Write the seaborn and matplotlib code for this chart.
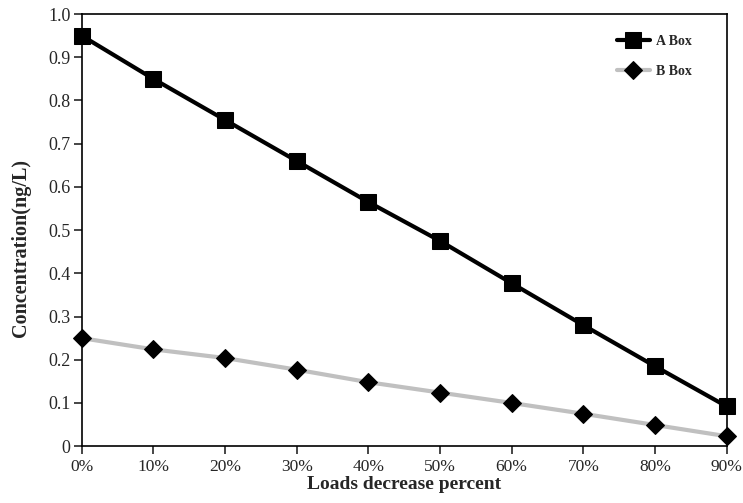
import numpy as np
import pandas as pd
import matplotlib
matplotlib.use("Agg")
import matplotlib.pyplot as plt
import seaborn as sns

categories = ["0%", "10%", "20%", "30%", "40%", "50%", "60%", "70%", "80%", "90%"]
a_box = [0.95, 0.85, 0.755, 0.66, 0.565, 0.475, 0.377, 0.28, 0.185, 0.092]
b_box = [0.25, 0.224, 0.204, 0.177, 0.148, 0.124, 0.100, 0.075, 0.049, 0.023]

sns.set_style("ticks")
plt.rcParams["font.family"] = ["Liberation Serif", "DejaVu Serif"]

df = pd.DataFrame({"pos": np.arange(len(categories)), "A Box": a_box, "B Box": b_box})

fig = plt.figure(figsize=(7.43, 5.03), dpi=100)
ax = fig.add_axes([0.110, 0.113, 0.868, 0.859])

sns.lineplot(data=df, x="pos", y="A Box", ax=ax, color="black", linewidth=3,
             marker="s", markersize=12, markeredgecolor="black", label="A Box",
             clip_on=False, zorder=4)
sns.lineplot(data=df, x="pos", y="B Box", ax=ax, color="#c0c0c0", linewidth=3,
             marker="D", markersize=9, markerfacecolor="black",
             markeredgecolor="black", label="B Box", clip_on=False, zorder=3)

ax.set_xlim(0, len(categories) - 1)
ax.set_ylim(0, 1.0)
ax.set_xticks(np.arange(len(categories)))
ax.set_xticklabels(categories)
ax.set_yticks(np.arange(0, 1.01, 0.1))
ax.set_yticklabels(["0"] + ["%.1f" % v for v in np.arange(0.1, 1.01, 0.1)])
ax.tick_params(axis="both", direction="out", length=6, width=1.2, labelsize=13)
ax.tick_params(axis="x", pad=3, labelsize=12.5)
ax.tick_params(axis="y", pad=2)

for s in ax.spines.values():
    s.set_visible(True)
    s.set_linewidth(1.2)
    s.set_color("black")

ax.set_xlabel("Loads decrease percent", fontsize=14, fontweight="bold", labelpad=1)
ax.set_ylabel("Concentration(ng/L)", fontsize=14.5, fontweight="bold")
ax.yaxis.set_label_coords(-0.078, 0.458)

leg = ax.legend(loc="upper left", frameon=False, handlelength=2.4,
                prop={"weight": "bold", "size": 10}, bbox_to_anchor=(0.81, 0.98),
                labelspacing=1.2, handletextpad=0.4)

fig.savefig("out.png", dpi=100)
